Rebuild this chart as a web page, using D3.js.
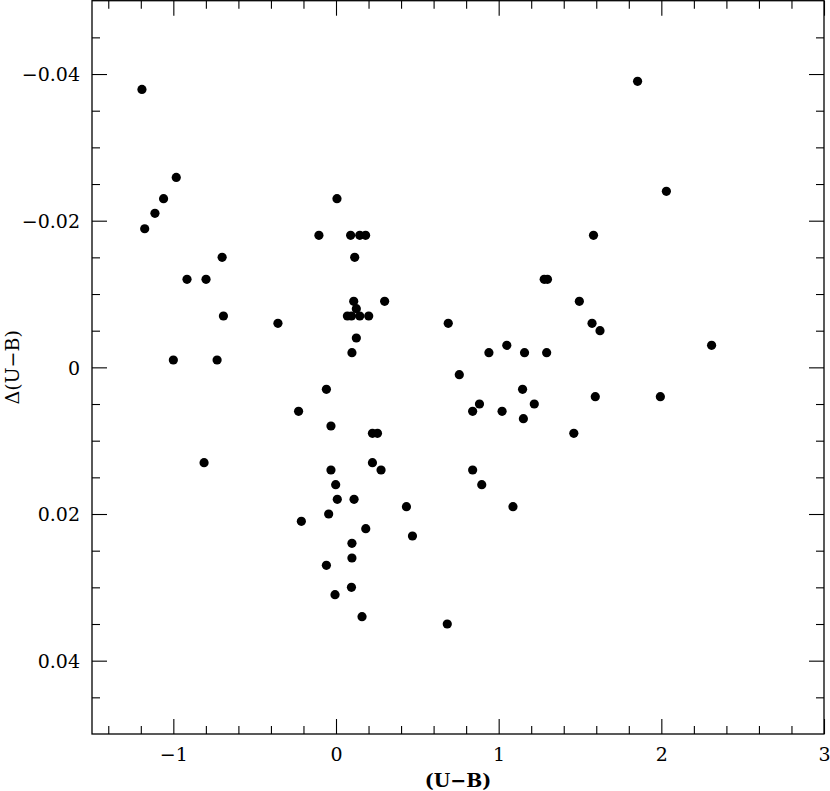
<!DOCTYPE html>
<html>
<head>
<meta charset="utf-8">
<script src="https://cdn.jsdelivr.net/npm/d3@7"></script>
<style>
  html, body { margin: 0; padding: 0; background: #fff; }
  svg { display: block; }
  text { font-family: "DejaVu Serif", "Liberation Serif", serif; fill: #000; }
</style>
</head>
<body>
<svg id="chart" width="830" height="791"></svg>
<script>
// ---- data ----
const ubColor = [
  -1.193, -0.982, -1.060, -1.113, -1.176, -0.700, -0.916, -0.799, -0.692, -0.357,
  -1.000, -0.731, -0.811, 0.006, -0.105, 0.090, 0.146, 0.182, 0.115, 0.109,
  0.125, 0.070, 0.095, 0.146, 0.201, 0.299, 0.125, 0.098, -0.059, -0.230,
  -0.031, 0.224, 0.255, 0.224, 0.277, -0.031, -0.002, 0.008, 0.111, 0.433,
  -0.045, -0.213, 0.183, 0.470, 0.098, 0.098, -0.059, 0.095, -0.006, 0.160,
  0.684, 0.690, 1.280, 1.300, 1.496, 1.574, 1.623, 2.309, 1.050, 0.940,
  1.159, 1.295, 0.758, 1.147, 0.882, 1.219, 0.840, 1.021, 1.152, 1.594,
  1.994, 1.462, 0.840, 0.896, 1.088, 2.031, 1.583, 1.854
];
const deltaUB = [
  -0.0379, -0.0259, -0.0230, -0.0210, -0.0189, -0.0150, -0.0120, -0.0120, -0.0070, -0.0060,
  -0.0010, -0.0010, 0.0130, -0.0230, -0.0180, -0.0180, -0.0180, -0.0180, -0.0150, -0.0090,
  -0.0080, -0.0070, -0.0070, -0.0070, -0.0070, -0.0090, -0.0040, -0.0020, 0.0030, 0.0060,
  0.0080, 0.0090, 0.0090, 0.0130, 0.0140, 0.0140, 0.0160, 0.0180, 0.0180, 0.0190,
  0.0200, 0.0210, 0.0220, 0.0230, 0.0240, 0.0260, 0.0270, 0.0300, 0.0310, 0.0340,
  0.0350, -0.0060, -0.0120, -0.0120, -0.0090, -0.0060, -0.0050, -0.0030, -0.0030, -0.0020,
  -0.0020, -0.0020, 0.0010, 0.0030, 0.0050, 0.0050, 0.0060, 0.0060, 0.0070, 0.0040,
  0.0040, 0.0090, 0.0140, 0.0160, 0.0190, -0.0240, -0.0180, -0.0390
];
const xMajorTicks = [-1, 0, 1, 2, 3];
const xTickLabels = ["\u22121", "0", "1", "2", "3"];
const xMinorTicks = [-1.4, -1.2, -0.8, -0.6, -0.4, -0.2, 0.2, 0.4, 0.6, 0.8, 1.2, 1.4, 1.6, 1.8, 2.2, 2.4, 2.6, 2.8];
const yMajorTicks = [-0.04, -0.02, 0, 0.02, 0.04];
const yTickLabels = ["\u22120.04", "\u22120.02", "0", "0.02", "0.04"];
const yMinorTicks = [-0.045, -0.035, -0.03, -0.025, -0.015, -0.01, -0.005, 0.005, 0.01, 0.015, 0.025, 0.03, 0.035, 0.045];
const xTitle = "(U\u2212B)";
const yTitle = "\u0394(U\u2212B)";

// ---- layout ----
const L = 92, R = 824, T = 0.7, B = 734;
const svg = d3.select("#chart");
const x = d3.scaleLinear().domain([-1.5, 3]).range([L, R]);
const y = d3.scaleLinear().domain([-0.05, 0.05]).range([T, B]);

const MAJ = 15, MIN = 8;
const fs = 19;

function styleAxis(g) {
  g.select(".domain").remove();
  g.selectAll(".tick line").attr("stroke", "#000").attr("stroke-width", 1.1);
}

// bottom
const gB = svg.append("g").attr("transform", `translate(0,${B})`);
gB.call(d3.axisBottom(x).tickValues(xMajorTicks).tickSize(-MAJ)
  .tickFormat((d, i) => xTickLabels[i]));
gB.selectAll(".tick text").attr("y", 27).attr("dy", 0)
  .style("font-size", fs + "px").style("font-family", '"DejaVu Serif", serif');
styleAxis(gB);
const gBm = svg.append("g").attr("transform", `translate(0,${B})`);
gBm.call(d3.axisBottom(x).tickValues(xMinorTicks).tickSize(-MIN).tickFormat(""));
styleAxis(gBm);

// top
const gT = svg.append("g").attr("transform", `translate(0,${T})`);
gT.call(d3.axisTop(x).tickValues(xMajorTicks).tickSize(-MAJ).tickFormat(""));
styleAxis(gT);
const gTm = svg.append("g").attr("transform", `translate(0,${T})`);
gTm.call(d3.axisTop(x).tickValues(xMinorTicks).tickSize(-MIN).tickFormat(""));
styleAxis(gTm);

// left
const gL = svg.append("g").attr("transform", `translate(${L},0)`);
gL.call(d3.axisLeft(y).tickValues(yMajorTicks).tickSize(-MAJ).tickPadding(12)
  .tickFormat((d, i) => yTickLabels[i]));
gL.selectAll(".tick text").attr("x", -12).attr("dy", "0.36em")
  .style("font-size", fs + "px").style("font-family", '"DejaVu Serif", serif');
styleAxis(gL);
const gLm = svg.append("g").attr("transform", `translate(${L},0)`);
gLm.call(d3.axisLeft(y).tickValues(yMinorTicks).tickSize(-MIN).tickFormat(""));
styleAxis(gLm);

// right
const gR = svg.append("g").attr("transform", `translate(${R},0)`);
gR.call(d3.axisRight(y).tickValues(yMajorTicks).tickSize(-MAJ).tickFormat(""));
styleAxis(gR);
const gRm = svg.append("g").attr("transform", `translate(${R},0)`);
gRm.call(d3.axisRight(y).tickValues(yMinorTicks).tickSize(-MIN).tickFormat(""));
styleAxis(gRm);

// frame
svg.append("rect")
  .attr("x", L).attr("y", T).attr("width", R - L).attr("height", B - T)
  .attr("fill", "none").attr("stroke", "#000").attr("stroke-width", 1.3);

// points
const pts = ubColor.map((v, i) => ({ u: v, d: deltaUB[i] }));
svg.append("g").selectAll("circle").data(pts).join("circle")
  .attr("cx", p => x(p.u)).attr("cy", p => y(p.d))
  .attr("r", 4.6).attr("fill", "#000");

// titles
svg.append("text")
  .attr("x", (L + R) / 2).attr("y", 787)
  .attr("text-anchor", "middle")
  .style("font-size", fs + "px").style("font-weight", "bold")
  .text(xTitle);

svg.append("text")
  .attr("transform", `translate(19,${(T + B) / 2}) rotate(-90)`)
  .attr("text-anchor", "middle")
  .style("font-size", fs + "px")
  .text(yTitle);
</script>
</body>
</html>
